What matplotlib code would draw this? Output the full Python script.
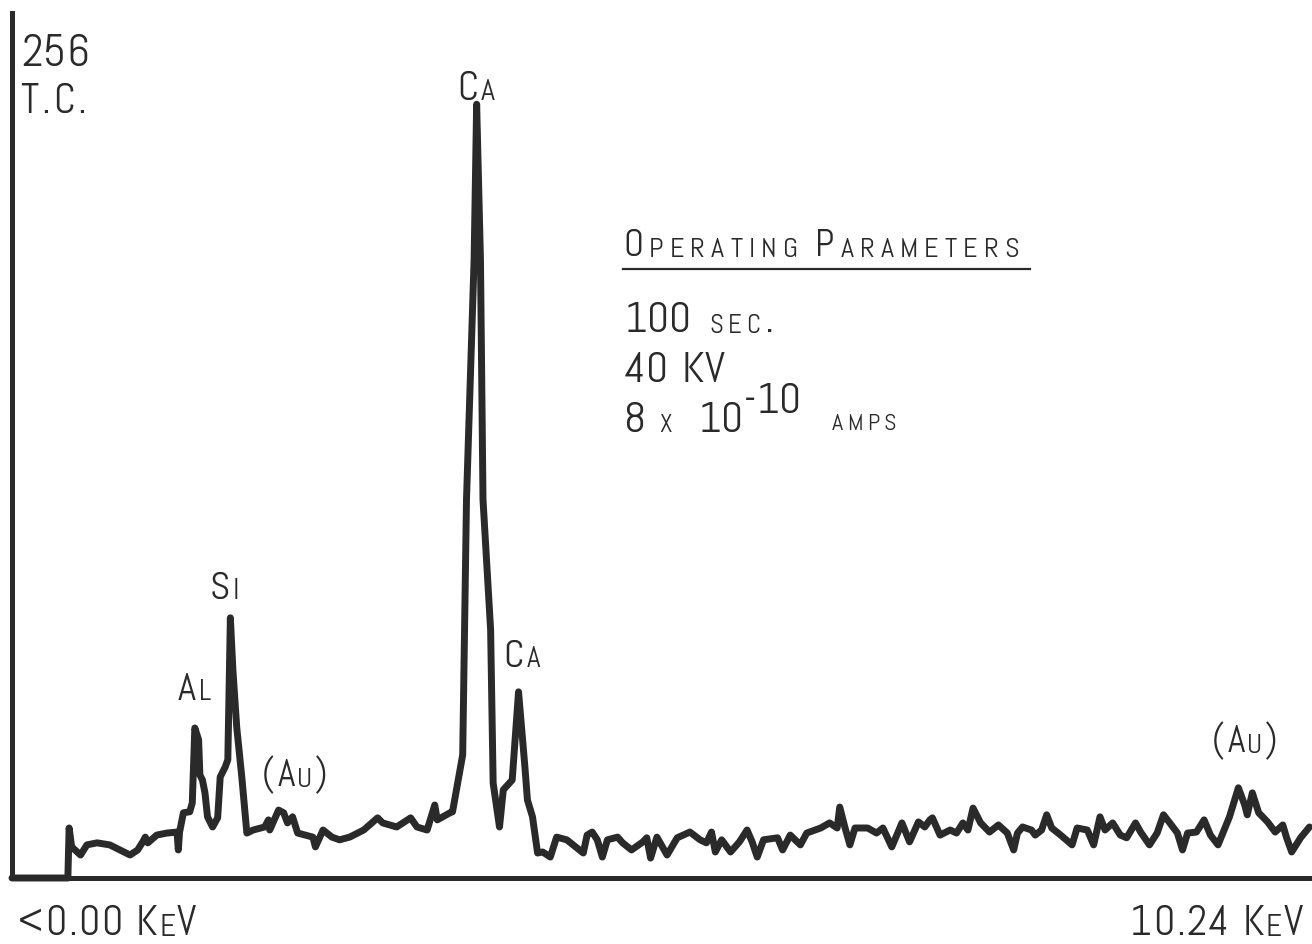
import numpy as np
import matplotlib.pyplot as plt

# EDS spectrum, 0 - 10.24 keV, full scale 256 counts
energy_kev = [
    0.00, 0.44, 0.45, 0.47, 0.54, 0.59, 0.67, 0.77, 0.85, 0.93, 0.99, 1.03, 1.05, 1.07,
    1.14, 1.22, 1.30, 1.31, 1.32, 1.35, 1.40, 1.42, 1.44, 1.47, 1.48, 1.50, 1.52, 1.54,
    1.58, 1.62, 1.64, 1.68, 1.70, 1.72, 1.74, 1.77, 1.81, 1.85, 1.90, 1.99, 2.02, 2.03,
    2.10, 2.14, 2.17, 2.21, 2.25, 2.37, 2.39, 2.45, 2.52, 2.58, 2.66, 2.77, 2.88, 2.92,
    3.03, 3.14, 3.19, 3.27, 3.33, 3.35, 3.45, 3.47, 3.55, 3.58, 3.64, 3.66, 3.69, 3.71,
    3.77, 3.79, 3.84, 3.87, 3.94, 3.99, 4.04, 4.06, 4.10, 4.14, 4.18, 4.24, 4.29, 4.37,
    4.42, 4.50, 4.53, 4.57, 4.61, 4.65, 4.69, 4.77, 4.81, 4.88, 4.97, 5.00, 5.03, 5.08,
    5.16, 5.24, 5.34, 5.42, 5.47, 5.51, 5.54, 5.59, 5.66, 5.73, 5.79, 5.83, 5.87, 5.92,
    6.03, 6.07, 6.13, 6.21, 6.26, 6.37, 6.44, 6.50, 6.52, 6.56, 6.60, 6.64, 6.74, 6.81,
    6.86, 6.93, 7.01, 7.07, 7.14, 7.19, 7.23, 7.25, 7.31, 7.39, 7.44, 7.49, 7.53, 7.57,
    7.63, 7.70, 7.77, 7.84, 7.89, 7.92, 7.96, 8.03, 8.06, 8.11, 8.15, 8.19, 8.26, 8.35,
    8.39, 8.47, 8.52, 8.57, 8.61, 8.67, 8.73, 8.78, 8.85, 8.89, 8.96, 9.02, 9.07, 9.12,
    9.18, 9.22, 9.26, 9.33, 9.39, 9.44, 9.50, 9.59, 9.66, 9.71, 9.73, 9.77, 9.82, 9.89,
    9.95, 10.01, 10.04, 10.08, 10.15, 10.22,
]
counts = [
    0.0, 0.0, 14.8, 9.2, 6.8, 9.8, 10.4, 9.8, 8.3, 6.8, 8.3, 10.7, 12.1, 10.4,
    12.7, 13.3, 13.6, 8.3, 13.6, 19.3, 19.6, 22.2, 44.4, 40.9, 30.5, 29.0, 25.2, 18.1,
    15.1, 17.8, 29.9, 32.9, 35.0, 77.0, 61.6, 44.7, 29.9, 13.3, 14.2, 15.1, 17.2, 14.2,
    20.1, 19.3, 16.3, 18.1, 13.3, 12.1, 9.2, 14.2, 12.1, 11.3, 12.1, 14.2, 17.8, 16.3,
    15.1, 17.8, 15.1, 14.2, 21.6, 17.2, 19.3, 19.6, 36.4, 112.0, 183.1, 229.0, 183.1, 112.0,
    73.5, 28.1, 15.1, 26.1, 29.0, 55.1, 32.9, 23.1, 18.1, 7.4, 7.7, 6.2, 12.1, 11.3,
    9.8, 7.4, 12.7, 13.6, 11.3, 6.2, 11.3, 12.1, 10.4, 8.3, 10.7, 11.9, 5.9, 12.1,
    6.8, 11.9, 13.6, 11.3, 10.4, 13.6, 7.7, 11.3, 7.7, 10.7, 14.2, 10.7, 6.2, 11.3,
    11.9, 8.3, 12.7, 9.8, 13.3, 14.8, 16.3, 14.8, 21.0, 15.1, 9.8, 14.8, 14.8, 13.3,
    14.8, 9.2, 16.3, 10.7, 16.6, 15.1, 17.2, 17.8, 12.7, 14.2, 13.3, 16.3, 14.2, 20.7,
    16.3, 13.6, 15.7, 13.3, 8.3, 13.3, 15.1, 14.2, 12.7, 14.2, 18.7, 14.8, 12.7, 9.8,
    14.8, 14.2, 9.8, 18.1, 14.2, 16.3, 12.7, 11.9, 16.3, 13.6, 9.8, 13.3, 18.7, 16.3,
    13.3, 8.3, 13.3, 13.6, 17.2, 12.7, 9.8, 18.1, 26.7, 21.6, 18.7, 25.2, 19.3, 16.6,
    13.6, 15.7, 11.9, 7.7, 11.9, 15.1,
]

W, H = 1312, 944
FONT = ['Abel', 'Liberation Sans', 'DejaVu Sans']
INK = '#2a2a2a'
DESC = 0.21  # font descent as a fraction of the size

fig = plt.figure(figsize=(W / 100, H / 100), dpi=100)
ax = fig.add_axes([12 / W, 66 / H, 1 - 12 / W, 865 / H])
ax.plot(energy_kev, counts, color=INK, lw=5.0, solid_joinstyle='round',
        solid_capstyle='round', clip_on=False)
ax.set_xlim(0, 10.24)
ax.set_ylim(0, 256)
ax.set_xticks([])
ax.set_yticks([])
for s in ('top', 'right'):
    ax.spines[s].set_visible(False)
for s in ('left', 'bottom'):
    ax.spines[s].set_linewidth(3.6)
    ax.spines[s].set_color(INK)


def lettering(s, size, xy=None, after=None, small=0.75, track=2.0, rise=0.0):
    """Plotter style lettering, one glyph at a time; lowercase -> small capitals."""
    prev, prev_fs = after if after else (None, None)
    space = 0.0
    for ch in s:
        if ch == ' ':
            space += 0.3 * size
            continue
        fs = size * small if ch.islower() else size
        kw = dict(fontsize=fs, family=FONT, color=INK, ha='left', va='bottom',
                  annotation_clip=False)
        if prev is None:
            x, y = xy
            t = ax.annotate(ch.upper(), xy=(x, H - y), xycoords='figure pixels',
                            xytext=(space, -DESC * fs + rise),
                            textcoords='offset points', **kw)
        else:
            t = ax.annotate(ch.upper(), xy=(1, 0), xycoords=prev,
                            xytext=(track + space, DESC * (prev_fs - fs) + rise),
                            textcoords='offset points', **kw)
        prev, prev_fs = t, fs
        space = 0.0
        rise = 0.0
    return prev, prev_fs


# full scale
lettering('256', 32, xy=(21, 66), track=0.3)
lettering('T.C.', 30, xy=(20, 113))

# peak identifications
lettering('Ca', 29, xy=(457, 100))
lettering('Si', 28, xy=(210, 599))
lettering('Al', 28, xy=(178, 700))
lettering('(Au)', 27, xy=(262, 786))
lettering('Ca', 28, xy=(503, 667))
lettering('(Au)', 27, xy=(1212, 752))

# energy range
lettering('<0.00 KeV', 30, xy=(18, 935), track=1.0)
lettering('10.24 KeV', 30, xy=(1130, 935), track=1.0)

# acquisition conditions
lettering('Operating Parameters', 27, xy=(623, 256), track=4.4)
ax.plot([(623 - 12) / 1300, (1030 - 12) / 1300], [(878 - 269) / 865] * 2,
        color=INK, lw=1.6, transform=ax.transAxes, clip_on=False)
last = lettering('100', 31, xy=(624, 332), track=0.3)
lettering(' sec.', 31, after=last, small=0.62, track=3.5)
lettering('40 KV', 31, xy=(624, 382), track=0.3)
last = lettering('8 x  10', 31, xy=(624, 432), small=0.6, track=0.3)
last = lettering('-10', 31, after=last, track=0.3, rise=13.7)
lettering('  amps', 31, after=last, small=0.56, track=3.2, rise=-12.0)

fig.savefig('out.png', dpi=100)
